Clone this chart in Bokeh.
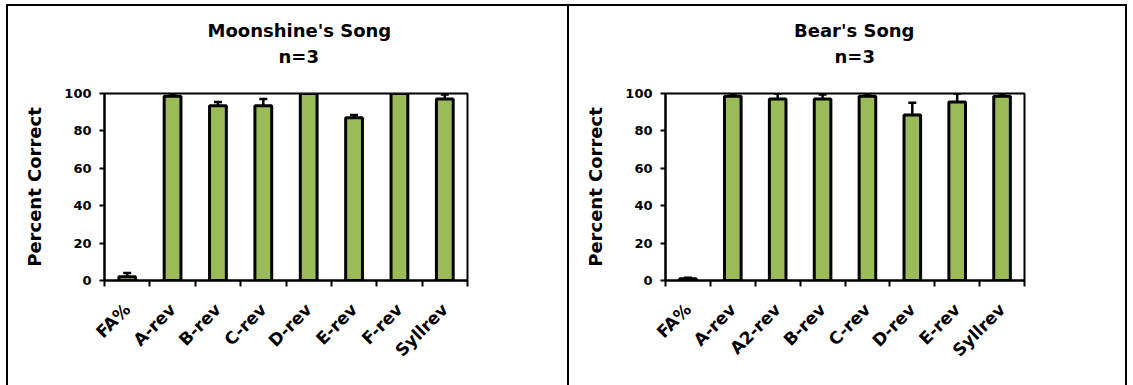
from bokeh.plotting import figure
from bokeh.models import ColumnDataSource, FixedTicker, Whisker, TeeHead, Title, Range1d
from bokeh.layouts import row
from bokeh.embed import file_html
from bokeh.resources import INLINE

# Percent correct per probe type, with the upper error bar length
moon_labels = ["FA%", "A-rev", "B-rev", "C-rev", "D-rev", "E-rev", "F-rev", "Syllrev"]
moon_pct = [2, 98.5, 93.5, 93.5, 100, 87, 100, 97]
moon_err = [2, 1.5, 2, 3.5, 0, 1.5, 0, 2.5]

bear_labels = ["FA%", "A-rev", "A2-rev", "B-rev", "C-rev", "D-rev", "E-rev", "Syllrev"]
bear_pct = [1, 98.5, 97, 97, 98.5, 88.5, 95.5, 98.5]
bear_err = [0.5, 1.5, 3, 2.5, 1.5, 6.5, 4.5, 1.5]

y_ticks = [0, 20, 40, 60, 80, 100]

FONT = "DejaVu Sans"
BAR_GREEN = "#9BBB59"


def heading(text, offset, standoff, size="18px"):
    return Title(text=text, align="left", offset=offset, standoff=standoff,
                 text_font=FONT, text_font_style="bold", text_font_size=size,
                 text_color="black")


def make_panel(song, n_label, labels, pct, err, width, border_left, border_right,
               song_offset, n_offset, styles, margin):
    n = len(labels)
    centers = [i + 0.5 for i in range(n)]
    src = ColumnDataSource(dict(
        x=centers,
        top=pct,
        upper=[p + e for p, e in zip(pct, err)],
    ))

    p = figure(width=width, height=381, output_backend="svg", toolbar_location=None,
               x_range=Range1d(0, n), y_range=Range1d(0, 100),
               min_border_left=border_left, min_border_right=border_right,
               min_border_top=87, min_border_bottom=107,
               background_fill_color="white", border_fill_color="white")
    p.title.visible = False
    p.styles = styles
    p.margin = margin

    p.vbar(x="x", top="top", bottom=0, width=0.37, source=src,
           fill_color=BAR_GREEN, line_color="black", line_width=3)

    p.add_layout(Whisker(base="x", lower="top", upper="upper", source=src,
                         line_color="black", line_width=2.5,
                         upper_head=TeeHead(size=8, line_color="black", line_width=2.5),
                         lower_head=None))

    p.outline_line_color = "black"
    p.outline_line_width = 2
    p.xgrid.visible = False
    p.ygrid.visible = False

    # category labels sit at bar centres, tick marks at the category boundaries
    xa = p.xaxis[0]
    xa.ticker = FixedTicker(ticks=centers, minor_ticks=list(range(n + 1)))
    xa.major_label_overrides = {c: lab for c, lab in zip(centers, labels)}
    xa.major_label_orientation = 0.785398
    xa.major_tick_out = 0
    xa.major_tick_in = 0
    xa.minor_tick_out = 6
    xa.minor_tick_in = 0
    xa.minor_tick_line_color = "black"
    xa.minor_tick_line_width = 2
    xa.axis_line_color = "black"
    xa.axis_line_width = 2
    xa.major_label_standoff = 20
    xa.major_label_text_font = FONT
    xa.major_label_text_font_style = "bold"
    xa.major_label_text_font_size = "17px"
    xa.major_label_text_color = "black"

    ya = p.yaxis[0]
    ya.ticker = FixedTicker(ticks=y_ticks)
    ya.minor_tick_line_color = None
    ya.major_tick_out = 5
    ya.major_tick_in = 0
    ya.major_tick_line_color = "black"
    ya.major_tick_line_width = 2
    ya.axis_line_color = "black"
    ya.axis_line_width = 2
    ya.major_label_standoff = 8
    ya.major_label_text_font = FONT
    ya.major_label_text_font_style = "bold"
    ya.major_label_text_font_size = "13px"
    ya.major_label_text_color = "black"
    ya.axis_label = "Percent Correct"
    ya.axis_label_text_font = FONT
    ya.axis_label_text_font_style = "bold"
    ya.axis_label_text_font_size = "18px"
    ya.axis_label_text_color = "black"
    ya.axis_label_standoff = 16

    # two-line heading, stacked outward from the plot area: a thin spacer first
    p.add_layout(heading(" ", 0, 20, size="1px"), "above")
    p.add_layout(heading(n_label, n_offset, 7), "above")
    p.add_layout(heading(song, song_offset, 0), "above")
    return p


left = make_panel("Moonshine's Song", "n=3", moon_labels, moon_pct, moon_err,
                  width=563, border_left=96, border_right=104,
                  song_offset=103, n_offset=174,
                  styles={"border-left": "2px solid black", "border-top": "2px solid black",
                          "border-right": "2px solid black", "box-sizing": "border-box"},
                  margin=(4, 0, 0, 6))
right = make_panel("Bear's Song", "n=3", bear_labels, bear_pct, bear_err,
                   width=558, border_left=96, border_right=103,
                   song_offset=128.5, n_offset=169,
                   styles={"border-top": "2px solid black", "border-right": "2px solid black",
                           "box-sizing": "border-box"},
                   margin=(4, 0, 0, 0))

layout = row(left, right, spacing=0)

open("out.html", "w").write(file_html(layout, INLINE))
